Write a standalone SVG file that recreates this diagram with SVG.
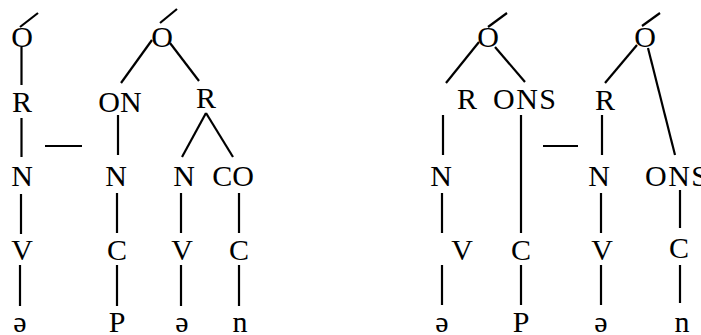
<svg xmlns="http://www.w3.org/2000/svg" width="701" height="335" viewBox="0 0 701 335">
<style>
text{font-family:"Liberation Serif","Times New Roman",serif;font-size:30px;fill:#000;text-anchor:middle}
.l line{stroke:#000;stroke-width:2.2;stroke-linecap:butt}
</style>
<rect width="701" height="335" fill="#fff"/>
<g class="l" id="connectors">
<line x1="20" y1="27" x2="38" y2="13"/>
<line x1="21.5" y1="47" x2="21.5" y2="85"/>
<line x1="21.5" y1="118" x2="21.5" y2="157"/>
<line x1="21" y1="194" x2="21" y2="234"/>
<line x1="20" y1="265" x2="20" y2="306"/>
<line x1="45" y1="146" x2="82" y2="146"/>
<line x1="160" y1="23" x2="177" y2="9"/>
<line x1="152" y1="40" x2="121" y2="83"/>
<line x1="170" y1="43" x2="199" y2="81"/>
<line x1="118" y1="115" x2="118" y2="155"/>
<line x1="117" y1="193" x2="117" y2="233"/>
<line x1="117" y1="265" x2="117" y2="306"/>
<line x1="206" y1="113" x2="182" y2="157"/>
<line x1="206" y1="113" x2="233" y2="157"/>
<line x1="181" y1="193" x2="181" y2="233"/>
<line x1="239" y1="193" x2="239" y2="233"/>
<line x1="181" y1="265" x2="181" y2="306"/>
<line x1="239" y1="265" x2="239" y2="306"/>
<line x1="488" y1="27" x2="507" y2="13"/>
<line x1="479" y1="42" x2="446" y2="83"/>
<line x1="495" y1="47" x2="525" y2="82"/>
<line x1="443" y1="115" x2="443" y2="155"/>
<line x1="521" y1="115" x2="521" y2="233"/>
<line x1="543" y1="146" x2="578" y2="146"/>
<line x1="442" y1="193" x2="442" y2="233"/>
<line x1="442" y1="265" x2="442" y2="305"/>
<line x1="521" y1="265" x2="521" y2="305"/>
<line x1="642" y1="26" x2="660" y2="13"/>
<line x1="637" y1="45" x2="605" y2="83"/>
<line x1="648" y1="48" x2="675" y2="155"/>
<line x1="602" y1="115" x2="602" y2="155"/>
<line x1="601" y1="193" x2="601" y2="233"/>
<line x1="601" y1="265" x2="601" y2="305"/>
<line x1="680" y1="190" x2="680" y2="228"/>
<line x1="680" y1="265" x2="680" y2="303"/>
</g>
<g id="n-O1"><text x="22" y="47">O</text></g>
<g id="n-R1"><text x="22" y="112">R</text></g>
<g id="n-N1"><text x="22" y="186">N</text></g>
<g id="n-V1"><text x="22" y="260">V</text></g>
<g id="n-schwa1"><text x="20" y="332">ə</text></g>
<g id="n-O2"><text x="162" y="47">O</text></g>
<g id="n-ON"><text x="120" y="112">ON</text></g>
<g id="n-N2"><text x="116" y="186">N</text></g>
<g id="n-C1"><text x="117" y="260">C</text></g>
<g id="n-P1"><text x="117" y="332">P</text></g>
<g id="n-R2"><text x="206" y="108">R</text></g>
<g id="n-N3"><text x="184" y="186">N</text></g>
<g id="n-CO"><text x="233" y="186">CO</text></g>
<g id="n-V2"><text x="182" y="260">V</text></g>
<g id="n-schwa2"><text x="182" y="332">ə</text></g>
<g id="n-C2"><text x="239" y="260">C</text></g>
<g id="n-n1"><text x="240" y="332">n</text></g>
<g id="n-O3"><text x="488" y="47">O</text></g>
<g id="n-R3"><text x="467" y="109">R</text></g>
<g id="n-ONS1"><text x="493" y="109" style="text-anchor:start" textLength="63" lengthAdjust="spacing">ONS</text></g>
<g id="n-N4"><text x="441" y="186">N</text></g>
<g id="n-V3"><text x="462" y="260">V</text></g>
<g id="n-schwa3"><text x="442" y="332">ə</text></g>
<g id="n-C3"><text x="521" y="260">C</text></g>
<g id="n-P2"><text x="521" y="332">P</text></g>
<g id="n-O4"><text x="645" y="47">O</text></g>
<g id="n-R4"><text x="605" y="110">R</text></g>
<g id="n-N5"><text x="599" y="186">N</text></g>
<g id="n-V4"><text x="602" y="260">V</text></g>
<g id="n-schwa4"><text x="601" y="332">ə</text></g>
<g id="n-ONS2"><text x="645" y="186" style="text-anchor:start" textLength="63" lengthAdjust="spacing">ONS</text></g>
<g id="n-C4"><text x="679" y="258">C</text></g>
<g id="n-n2"><text x="682" y="332">n</text></g>
</svg>
